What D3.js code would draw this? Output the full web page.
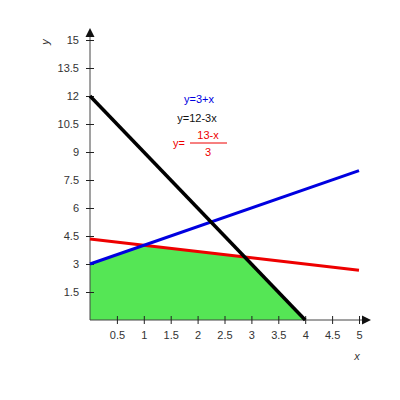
<!DOCTYPE html>
<html>
<head>
<meta charset="utf-8">
<script src="https://cdn.jsdelivr.net/npm/d3@7"></script>
<style>
body{margin:0;background:#fff;}
text{font-family:Arial,"Liberation Sans",sans-serif;}
</style>
</head>
<body>
<div id="chart"></div>
<script>
var svgWidth=400
var svgHeight=400

// data
var xTicks=[0.5,1,1.5,2,2.5,3,3.5,4,4.5,5]
var yTicks=[1.5,3,4.5,6,7.5,9,10.5,12,13.5,15]
var blueLine=[[0,3],[5,8]]
var blackLine=[[0,12],[4,0]]
var redLine=[[0,13/3],[5,8/3]]
var region=[[0,0],[0,3],[1,4],[2.875,3.375],[4,0]]

var svg=d3.select("#chart").append("svg")
    .attr("width",svgWidth)
    .attr("height",svgHeight)

var x=d3.scaleLinear().domain([0,5]).range([90,359])
var y=d3.scaleLinear().domain([0,15]).range([320,40])

var line=d3.line().x(d=>x(d[0])).y(d=>y(d[1]))
var fmt=d=>String(d)

// feasible region
svg.append("path")
    .attr("d",line(region)+"Z")
    .attr("fill","#55e655")

// axes
var xAxis=svg.append("g")
    .attr("transform",`translate(0,${y(0)})`)
    .call(d3.axisBottom(x).tickValues(xTicks).tickFormat(fmt).tickSize(4).tickSizeOuter(0))
var yAxis=svg.append("g")
    .attr("transform",`translate(${x(0)},0)`)
    .call(d3.axisLeft(y).tickValues(yTicks).tickFormat(fmt).tickSize(4).tickSizeOuter(0))

xAxis.select(".domain").attr("d",`M${x(0)},0H${x(5)+8}`)
yAxis.select(".domain").attr("d",`M0,${y(0)}V${y(15)-8}`)

svg.selectAll(".domain").attr("stroke","#444")
xAxis.selectAll(".tick line").attr("stroke","#222").attr("y1",-4).attr("y2",4)
yAxis.selectAll(".tick line").attr("stroke","#222").attr("x1",-4).attr("x2",4)
xAxis.selectAll(".tick text").attr("y",11).attr("font-size",11).attr("fill","#333")
yAxis.selectAll(".tick text").attr("x",-11).attr("font-size",11).attr("fill","#333")
svg.selectAll(".tick text").attr("font-family","Arial,'Liberation Sans',sans-serif")

// arrow heads
svg.append("path")
    .attr("d",`M${x(5)+12},${y(0)}l-9,-4.5v9Z`).attr("fill","#111")
svg.append("path")
    .attr("d",`M${x(0)},${y(15)-12}l-4.5,9h9Z`).attr("fill","#111")

// lines
svg.append("path").attr("d",line(redLine)).attr("stroke","#ee0000").attr("stroke-width",3).attr("fill","none")
svg.append("path").attr("d",line(blueLine)).attr("stroke","#0000e0").attr("stroke-width",3).attr("fill","none")
svg.append("path").attr("d",line(blackLine)).attr("stroke","#000").attr("stroke-width",3.5).attr("fill","none")

// axis labels
svg.append("text").attr("x",357).attr("y",360).attr("font-size",11).attr("font-style","italic").attr("fill","#333").attr("text-anchor","middle").text("x")
svg.append("text").attr("transform","translate(49,42) rotate(-90)").attr("font-size",11).attr("font-style","italic").attr("fill","#333").attr("text-anchor","middle").text("y")

// equations
svg.append("text").attr("x",199).attr("y",103).attr("font-size",11).attr("fill","#0000e0").attr("text-anchor","middle").text("y=3+x")
svg.append("text").attr("x",197).attr("y",122).attr("font-size",11).attr("fill","#111").attr("text-anchor","middle").text("y=12-3x")
svg.append("text").attr("x",173).attr("y",147).attr("font-size",11).attr("fill","#ee0000").text("y=")
svg.append("line").attr("x1",190).attr("x2",227).attr("y1",143).attr("y2",143).attr("stroke","#ee0000").attr("stroke-width",1)
svg.append("text").attr("x",208).attr("y",139).attr("font-size",11).attr("fill","#ee0000").attr("text-anchor","middle").text("13-x")
svg.append("text").attr("x",208).attr("y",156).attr("font-size",11).attr("fill","#ee0000").attr("text-anchor","middle").text("3")
</script>
</body>
</html>
